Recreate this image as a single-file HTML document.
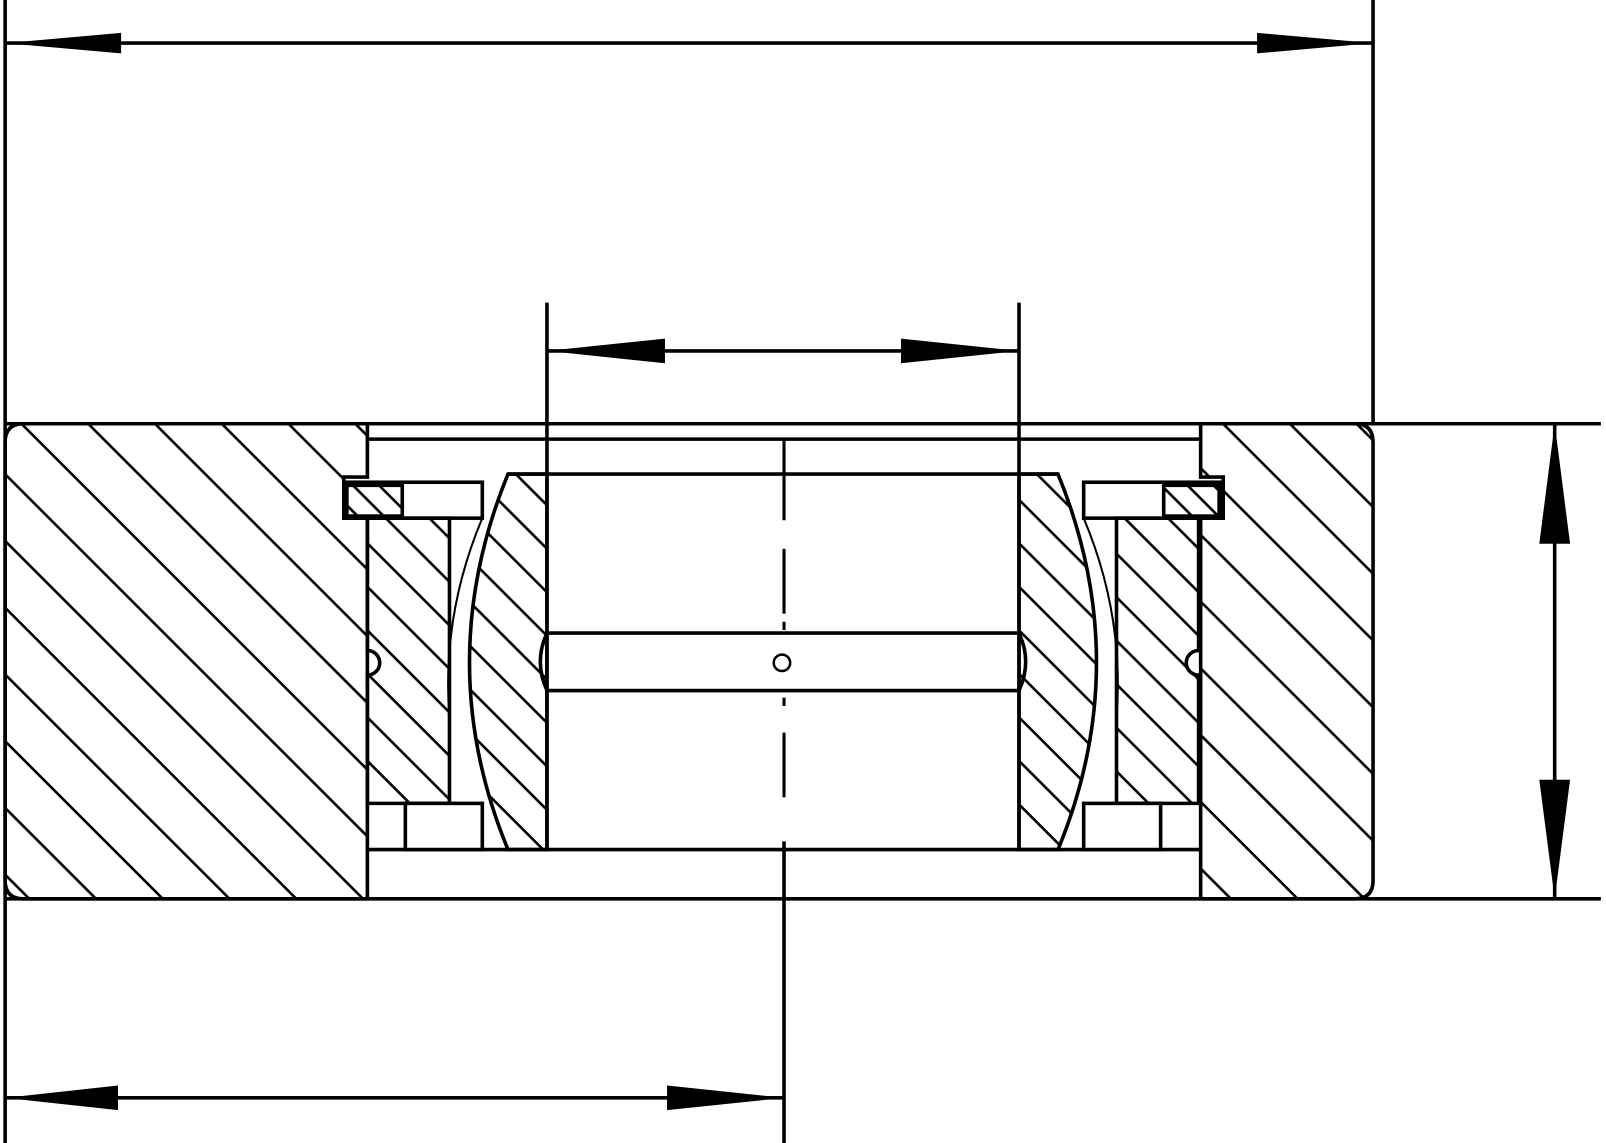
<!DOCTYPE html>
<html><head><meta charset="utf-8"><style>html,body{margin:0;padding:0;background:#fff}svg{display:block}</style></head>
<body>
<svg width="1606" height="1143" viewBox="0 0 1565 1114" preserveAspectRatio="none" xmlns="http://www.w3.org/2000/svg">
<defs>
<pattern id="hb" patternUnits="userSpaceOnUse" width="46" height="46" patternTransform="rotate(45)"><line x1="0" y1="1" x2="46" y2="1" stroke="#000" stroke-width="3"/></pattern>
<pattern id="hs" patternUnits="userSpaceOnUse" width="30" height="30" patternTransform="rotate(45)"><line x1="0" y1="1" x2="30" y2="1" stroke="#000" stroke-width="3"/></pattern>
<pattern id="hsm" patternUnits="userSpaceOnUse" width="30" height="30" patternTransform="rotate(-45)"><line x1="0" y1="1" x2="30" y2="1" stroke="#000" stroke-width="3"/></pattern>
<pattern id="hxs" patternUnits="userSpaceOnUse" width="18" height="18" patternTransform="rotate(45)"><line x1="0" y1="1" x2="18" y2="1" stroke="#000" stroke-width="3"/></pattern>
<pattern id="hxsm" patternUnits="userSpaceOnUse" width="18" height="18" patternTransform="rotate(-45)"><line x1="0" y1="1" x2="18" y2="1" stroke="#000" stroke-width="3"/></pattern>
</defs>
<g stroke="#000" stroke-width="3.5" fill="none">
<line x1="5" y1="0" x2="5" y2="1114"/>
<line x1="1338" y1="0" x2="1338" y2="413"/>
<line x1="5" y1="42" x2="1338" y2="42"/>
<line x1="5" y1="413" x2="1560" y2="413"/>
<line x1="5" y1="876" x2="1560" y2="876"/>
<line x1="1515" y1="413" x2="1515" y2="876"/>
<line x1="533" y1="295" x2="533" y2="828"/>
<line x1="993" y1="295" x2="993" y2="828"/>
<line x1="533" y1="342" x2="993" y2="342"/>
<line x1="5" y1="1070" x2="764" y2="1070"/>
<line x1="764" y1="820" x2="764" y2="1114"/>
<path d="M23,413 H358 V465 H335 V505 H358 V876 H23 Q5,876 5,858 V431 Q5,413 23,413 Z" fill="url(#hb)"/>
<path d="M1170,413 H1320 Q1338,413 1338,431 V858 Q1338,876 1320,876 H1170 V505 H1192 V465 H1170 Z" fill="url(#hb)"/>
<line x1="358" y1="428" x2="1170" y2="428"/>
<line x1="358" y1="828" x2="1170" y2="828"/>
<line x1="495" y1="462" x2="1031" y2="462"/>
<line x1="533" y1="617" x2="993" y2="617"/>
<line x1="533" y1="673" x2="993" y2="673"/>
<path d="M533,617 Q520,645 533,673 M993,617 Q1006,645 993,673"/>
<g>
<rect x="335" y="470" width="135" height="35" fill="#fff"/>
<rect x="338" y="473" width="54" height="30" fill="url(#hxs)"/>
<path d="M358,505 H438 V783 H358 V658 A12,12 0 0 0 358,634 Z" fill="url(#hs)"/>
<rect x="395" y="783" width="75" height="45" fill="#fff"/>
<path d="M495,462 H533 V828 H495 Q420,646 495,462 Z" fill="url(#hs)"/>
<path d="M470,505 Q430,600 438,700" stroke-width="2"/>
</g>
<g transform="translate(1526,0) scale(-1,1)">
<rect x="335" y="470" width="135" height="35" fill="#fff"/>
<rect x="338" y="473" width="54" height="30" fill="url(#hxsm)"/>
<path d="M358,505 H438 V783 H358 V658 A12,12 0 0 0 358,634 Z" fill="url(#hsm)"/>
<rect x="395" y="783" width="75" height="45" fill="#fff"/>
<path d="M495,462 H533 V828 H495 Q420,646 495,462 Z" fill="url(#hsm)"/>
<path d="M470,505 Q430,600 438,700" stroke-width="2"/>
</g>
<g stroke-width="3">
<line x1="764" y1="428" x2="764" y2="507"/>
<line x1="764" y1="535" x2="764" y2="598"/>
<line x1="764" y1="606" x2="764" y2="614"/>
<line x1="764" y1="680" x2="764" y2="688"/>
<line x1="764" y1="714" x2="764" y2="777"/>
</g>
<circle cx="762" cy="646" r="8" stroke-width="2.5" fill="#fff"/>
</g>
<g fill="#000">
<polygon points="5,42 118,32 118,52"/><polygon points="1338,42 1225,32 1225,52"/>
<polygon points="533,342 648,330 648,354"/><polygon points="993,342 878,330 878,354"/>
<polygon points="1515,413 1500,530 1530,530"/><polygon points="1515,876 1500,760 1530,760"/>
<polygon points="5,1070 115,1058 115,1082"/><polygon points="764,1070 650,1058 650,1082"/>
</g>
</svg>
</body></html>
